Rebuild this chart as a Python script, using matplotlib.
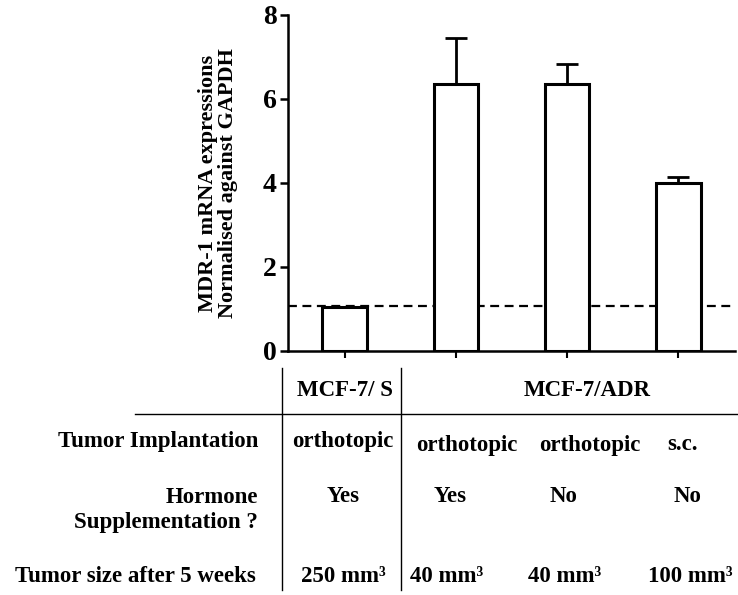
import matplotlib.pyplot as plt
from matplotlib.lines import Line2D

plt.rcParams['font.family'] = ['Liberation Serif', 'DejaVu Serif']
plt.rcParams['font.weight'] = 'bold'

# data
groups = ["MCF-7/S", "ADR orthotopic +H", "ADR orthotopic", "ADR s.c."]
mdr1 = [1.05, 6.36, 6.36, 4.0]
err_up = [0.0, 1.1, 0.47, 0.14]
baseline = 1.07

row_labels = ["Tumor Implantation", "Hormone\nSupplementation ?", "Tumor size after 5 weeks"]
implantation = ["orthotopic", "orthotopic", "orthotopic", "s.c."]
hormone = ["Yes", "Yes", "No", "No"]
tumor_size = ["250", "40", "40", "100"]

W, H = 738, 595
fig = plt.figure(figsize=(W / 100, H / 100), dpi=100)
ax = fig.add_axes([288 / W, 1 - 351 / H, (735 - 288) / W, (351 - 15) / H])

x = range(len(mdr1))
ax.bar(x, mdr1, width=0.4, color='white', edgecolor='black', linewidth=2.2, zorder=3)
ax.errorbar(x, mdr1, yerr=[[0] * len(err_up), err_up], fmt='none', ecolor='black',
            elinewidth=2.0, capsize=8, capthick=2.0, zorder=2)
ax.axhline(baseline, color='black', lw=1.6, dashes=(4, 2.5), zorder=1)

ax.set_xlim(-0.51, 3.51)
ax.set_ylim(0, 8)
ax.set_yticks([0, 2, 4, 6, 8])
ax.set_xticks(list(x))
ax.set_xticklabels([])
for s in ['top', 'right']:
    ax.spines[s].set_visible(False)
for s in ['left', 'bottom']:
    ax.spines[s].set_linewidth(1.8)
ax.tick_params(axis='y', length=6, width=1.8, labelsize=20, pad=2)
ax.tick_params(axis='x', length=5, width=1.5)
ax.set_ylabel("MDR-1 mRNA expressions\nNormalised against GAPDH", fontsize=16,
              fontweight='bold', linespacing=1.0, labelpad=18)


def ftext(px, py, s, ha='center', **kw):
    fig.text(px / W, 1 - py / H, s, ha=ha, va='center', fontsize=16.5,
             fontweight='bold', **kw)


# table lines
fig.add_artist(Line2D([282 / W, 282 / W], [1 - 368 / H, 1 - 590 / H], color='black', lw=1))
fig.add_artist(Line2D([401 / W, 401 / W], [1 - 368 / H, 1 - 590 / H], color='black', lw=1))
fig.add_artist(Line2D([135 / W, 738 / W], [1 - 414 / H, 1 - 414 / H], color='black', lw=1))

# header
ftext(345, 390, "MCF-7/ S")
ftext(587, 390, "MCF-7/ADR")

# row labels
ftext(258, 442, row_labels[0], ha='right')
ftext(258, 510, row_labels[1], ha='right', multialignment='right', linespacing=1.25)
ftext(15, 577, row_labels[2], ha='left')

col_x = [343, 467, 590, 683]
impl_y = [442, 445, 445, 445]
for cx, iy, v in zip(col_x, impl_y, implantation):
    ftext(cx, iy, v)

horm_x = [343, 450, 563, 687]
for hx, v in zip(horm_x, hormone):
    ftext(hx, 497, v)

size_x = [343, 447, 565, 690]
for sx, v in zip(size_x, tumor_size):
    ftext(sx, 577, v + " mm\u00b3")

fig.savefig("out.png", dpi=100)
